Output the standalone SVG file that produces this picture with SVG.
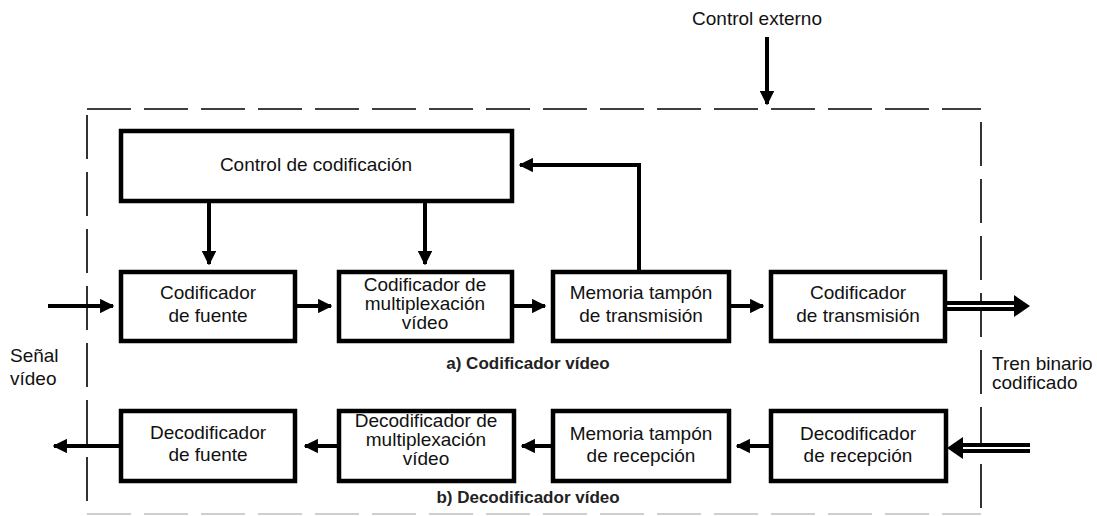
<svg xmlns="http://www.w3.org/2000/svg" width="1097" height="516" viewBox="0 0 1097 516">
<style>
.box{fill:#fff;stroke:#000;stroke-width:4.5}
.t{font-family:"Liberation Sans",Arial,sans-serif;font-size:19px;fill:#111;text-anchor:middle}
.tl{font-family:"Liberation Sans",Arial,sans-serif;font-size:19px;fill:#111}
.cap{font-family:"Liberation Sans",Arial,sans-serif;font-size:17px;font-weight:bold;fill:#222;text-anchor:middle}
.w{fill:none;stroke:#000;stroke-width:4}
.dash{fill:none;stroke:#000;stroke-width:1.6;stroke-dasharray:44 13}
</style>
<defs>
<marker id="ah" viewBox="0 0 10 10" refX="9" refY="5" markerWidth="3.6" markerHeight="3.6" orient="auto" markerUnits="strokeWidth">
<path d="M0,0 L10,5 L0,10 z" fill="#000"/>
</marker>
</defs>
<rect width="1097" height="516" fill="#fff"/>

<g id="frame">
<path class="dash" d="M87,109 H981"/>
<path class="dash" d="M87,115 V514"/>
<path class="dash" d="M981,122 V514"/>
<path d="M87,514 H981" fill="none" stroke="#cfcfcf" stroke-width="2" stroke-dasharray="44 13"/>
</g>

<g id="connectors">
<path class="w" d="M767,37 V104" marker-end="url(#ah)"/>
<path class="w" d="M209,203 V264" marker-end="url(#ah)"/>
<path class="w" d="M425,203 V264" marker-end="url(#ah)"/>
<path class="w" d="M639,270 V165 H520" marker-end="url(#ah)"/>
<path class="w" d="M48,306 H113" marker-end="url(#ah)"/>
<path class="w" d="M297,306 H331" marker-end="url(#ah)"/>
<path class="w" d="M514,306 H545" marker-end="url(#ah)"/>
<path class="w" d="M731,306 H763" marker-end="url(#ah)"/>
<path d="M947,306 H1016" fill="none" stroke="#000" stroke-width="10"/>
<path d="M947,306 H1016" fill="none" stroke="#fff" stroke-width="2"/>
<path d="M1014,295 L1030,306 L1014,317 z" fill="#000"/>
<path d="M1030,448 H961" fill="none" stroke="#000" stroke-width="10"/>
<path d="M1030,448 H961" fill="none" stroke="#fff" stroke-width="2"/>
<path d="M963,437 L947,448 L963,459 z" fill="#000"/>
<path class="w" d="M771,446 H737" marker-end="url(#ah)"/>
<path class="w" d="M553,446 H522" marker-end="url(#ah)"/>
<path class="w" d="M339,446 H305" marker-end="url(#ah)"/>
<path class="w" d="M121,446 H54" marker-end="url(#ah)"/>
</g>

<g id="control-externo">
<text class="t" x="757" y="25">Control externo</text>
</g>

<g id="control-codificacion">
<rect class="box" x="121" y="131" width="391" height="70"/>
<text class="t" x="316" y="171">Control de codificación</text>
</g>

<g id="codificador-fuente">
<rect class="box" x="121" y="272" width="174" height="69"/>
<text class="t" x="208" y="299">Codificador</text>
<text class="t" x="208" y="322">de fuente</text>
</g>

<g id="codificador-multiplex">
<rect class="box" x="339" y="272" width="173" height="69"/>
<text class="t" x="425" y="291">Codificador de</text>
<text class="t" x="425" y="310">multiplexación</text>
<text class="t" x="425" y="329">vídeo</text>
</g>

<g id="memoria-transmision">
<rect class="box" x="553" y="272" width="176" height="69"/>
<text class="t" x="641" y="299">Memoria tampón</text>
<text class="t" x="641" y="322">de transmisión</text>
</g>

<g id="codificador-transmision">
<rect class="box" x="771" y="272" width="174" height="69"/>
<text class="t" x="858" y="299">Codificador</text>
<text class="t" x="858" y="322">de transmisión</text>
</g>

<g id="decodificador-fuente">
<rect class="box" x="121" y="411" width="174" height="70"/>
<text class="t" x="208" y="439">Decodificador</text>
<text class="t" x="208" y="461">de fuente</text>
</g>

<g id="decodificador-multiplex">
<rect class="box" x="339" y="411" width="175" height="70"/>
<text class="t" x="426" y="427">Decodificador de</text>
<text class="t" x="426" y="446">multiplexación</text>
<text class="t" x="426" y="465">vídeo</text>
</g>

<g id="memoria-recepcion">
<rect class="box" x="553" y="411" width="176" height="70"/>
<text class="t" x="641" y="440">Memoria tampón</text>
<text class="t" x="641" y="462">de recepción</text>
</g>

<g id="decodificador-recepcion">
<rect class="box" x="771" y="411" width="175" height="70"/>
<text class="t" x="858" y="440">Decodificador</text>
<text class="t" x="858" y="462">de recepción</text>
</g>

<g id="labels">
<text class="tl" x="10" y="362">Señal</text>
<text class="tl" x="10" y="385">vídeo</text>
<text class="tl" x="992" y="370">Tren binario</text>
<text class="tl" x="992" y="389">codificado</text>
<text class="cap" x="528" y="369">a) Codificador vídeo</text>
<text class="cap" x="528" y="503">b) Decodificador vídeo</text>
</g>
</svg>
